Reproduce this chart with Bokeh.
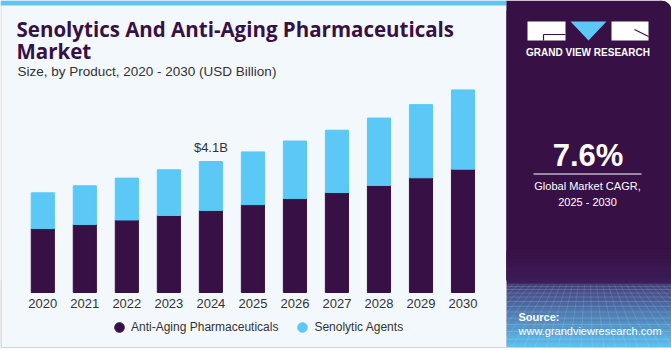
from bokeh.plotting import figure
from bokeh.models import Range1d, Label, Legend, LegendItem, ColumnDataSource
from bokeh.core.properties import value
from bokeh.embed import file_html
from bokeh.resources import INLINE

# ---- data (USD Billion) ----
years = ["2020", "2021", "2022", "2023", "2024", "2025", "2026", "2027", "2028", "2029", "2030"]
year_num = [2020, 2021, 2022, 2023, 2024, 2025, 2026, 2027, 2028, 2029, 2030]
anti_aging = [2.00, 2.13, 2.27, 2.41, 2.57, 2.75, 2.94, 3.13, 3.35, 3.59, 3.86]
senolytic = [1.12, 1.21, 1.31, 1.43, 1.53, 1.65, 1.80, 1.95, 2.11, 2.29, 2.48]
series_names = ["Anti-Aging Pharmaceuticals", "Senolytic Agents"]
highlight_year = 2024
cagr_text = "7.6%"

DARK = "#371046"
LIGHT = "#5bc8f5"
FONT = "Liberation Sans"
TFONT = "Open Sans"

src = ColumnDataSource(dict(year=year_num, label=years, anti=anti_aging, sen=senolytic))

W, H = 671, 350
p = figure(width=W, height=H, x_range=Range1d(0, W), y_range=Range1d(H, 0),
           x_axis_type=None, y_axis_type=None, toolbar_location=None,
           output_backend="svg", min_border=0, outline_line_color=None,
           background_fill_color="white", border_fill_color="white")
p.extra_x_ranges = {"yr": Range1d(2018.993, 2034.962)}
p.extra_y_ranges = {"val": Range1d(-1.8153, 9.139)}

# ---- panels ----
p.quad(left=0.5, right=506, top=0.5, bottom=347, fill_color="#f3f8fc", line_color="#cfd3d6", line_width=1)
p.quad(left=0, right=506, top=0, bottom=5, fill_color="#60c6f1", line_color=None)

# right dark panel with rounded top-right corner
p.quad(left=506, right=661, top=0, bottom=346, fill_color=DARK, line_color=None)
p.quad(left=506, right=671, top=10, bottom=346, fill_color=DARK, line_color=None)
p.ellipse(x=661, y=10, width=20, height=20, fill_color=DARK, line_color=None)

# bottom gradient of the dark panel
def mix(c1, c2, t):
    a = [int(c1[i:i + 2], 16) for i in (1, 3, 5)]
    b = [int(c2[i:i + 2], 16) for i in (1, 3, 5)]
    return "#%02x%02x%02x" % tuple(round(a[k] + (b[k] - a[k]) * t) for k in range(3))

n1 = 8
for i in range(n1):
    y0 = 250 + i * 33 / n1
    p.quad(left=506, right=671, top=y0, bottom=y0 + 33 / n1 + 0.5,
           fill_color=mix(DARK, "#3b1c56", (i + 1) / n1), line_color=None)
n2 = 24
for i in range(n2):
    y0 = 283 + i * 63 / n2
    p.quad(left=506, right=671, top=y0, bottom=y0 + 63 / n2 + 0.5,
           fill_color=mix("#44407c", "#5cc0ee", i / (n2 - 1)), line_color=None)

# faint perspective mesh
hy = [286, 289, 292.5, 296.5, 301, 306, 311.5, 317.5, 324, 331, 338.5]
p.segment(x0=[506] * len(hy), y0=hy, x1=[671] * len(hy), y1=hy,
          line_color="white", line_alpha=0.18, line_width=0.8)
vx_top = [506 + 6 * k for k in range(28)]
vx_bot = [506 + (x - 588) * 1.9 + 82 for x in vx_top]
p.segment(x0=vx_top, y0=[284] * len(vx_top), x1=vx_bot, y1=[346] * len(vx_top),
          line_color="white", line_alpha=0.14, line_width=0.8)
# keep the mesh inside the panel
p.quad(left=496, right=506, top=280, bottom=347, fill_color="#f3f8fc", line_color=None)
p.segment(x0=[0.5], y0=[280], x1=[0.5], y1=[347], line_color="#cfd3d6")
p.quad(left=671, right=1200, top=280, bottom=350, fill_color="white", line_color=None)
p.quad(left=0, right=671, top=346.5, bottom=350, fill_color="white", line_color=None)
p.segment(x0=[0.5], y0=[347], x1=[671], y1=[347], line_color="#cfd3d6")

# ---- logo ----
p.quad(left=527, right=565, top=21, bottom=40, fill_color="white", line_color=None)
p.segment(x0=[543, 543], y0=[34, 34], x1=[565, 543], y1=[34, 40], line_color=DARK, line_width=1.2)
p.patch(x=[570, 606, 588], y=[21, 21, 40], fill_color=LIGHT, line_color=None)
p.quad(left=611, right=648, top=21, bottom=40, fill_color="white", line_color=None)
p.segment(x0=[634], y0=[29], x1=[648], y1=[36], line_color=DARK, line_width=1.2)
p.add_layout(Label(x=587.5, y=52, text="GRAND VIEW RESEARCH", text_align="center",
                   text_baseline="middle", text_color="white", text_font=FONT,
                   text_font_style="bold", text_font_size="10px"))

# ---- bars ----
bars = p.vbar_stack(["anti", "sen"], x="year", width=0.55, color=[DARK, LIGHT],
                    source=src, x_range_name="yr", y_range_name="val")

# year labels
p.text(x="year", y=302.5, text="label", source=src, x_range_name="yr",
       text_align="center", text_baseline="middle", text_color="#333333",
       text_font=value(FONT), text_font_size="13px")

hi = year_num.index(highlight_year)
p.add_layout(Label(x=highlight_year, y=anti_aging[hi] + senolytic[hi],
                   x_range_name="yr", y_range_name="val",
                   text="$%.1fB" % (anti_aging[hi] + senolytic[hi]),
                   text_align="center", text_baseline="bottom", y_offset=7,
                   text_color="#333333", text_font=FONT, text_font_size="13px"))

# ---- legend (marker renderers placed outside the visible area) ----
d1 = p.scatter(x=[-500], y=[-500], marker="circle", size=10, color=DARK)
d2 = p.scatter(x=[-500], y=[-500], marker="circle", size=10, color=LIGHT)
legend = Legend(items=[LegendItem(label=series_names[0], renderers=[d1]),
                       LegendItem(label=series_names[1], renderers=[d2])],
                orientation="horizontal", location=(107, 11),
                glyph_width=24, glyph_height=24, label_standoff=-1, spacing=12,
                padding=0, margin=0, background_fill_alpha=0, border_line_alpha=0,
                label_text_font=FONT, label_text_font_size="12px",
                label_text_color="#333333")
p.add_layout(legend, "center")

# ---- titles ----
p.add_layout(Label(x=16, y=28, text="Senolytics And Anti-Aging Pharmaceuticals",
                   text_baseline="middle", text_color=DARK, text_font=TFONT,
                   text_font_style="bold", text_font_size="20.5px"))
p.add_layout(Label(x=16, y=50.5, text="Market", text_baseline="middle",
                   text_color=DARK, text_font=TFONT, text_font_style="bold",
                   text_font_size="20.5px"))
p.add_layout(Label(x=17, y=70.5, text="Size, by Product, 2020 - 2030 (USD Billion)",
                   text_baseline="middle", text_color="#333333", text_font=FONT,
                   text_font_size="13.5px"))

# ---- right panel texts ----
p.add_layout(Label(x=587.5, y=155, text=cagr_text, text_align="center",
                   text_baseline="middle", text_color="white", text_font=FONT,
                   text_font_style="bold", text_font_size="31px"))
p.segment(x0=[533], y0=[173.5], x1=[641], y1=[173.5], line_color="white", line_width=1)
p.add_layout(Label(x=587, y=185.5, text="Global Market CAGR,", text_align="center",
                   text_baseline="middle", text_color="white", text_font=FONT,
                   text_font_size="11px"))
p.add_layout(Label(x=587, y=201.5, text="2025 - 2030", text_align="center",
                   text_baseline="middle", text_color="white", text_font=FONT,
                   text_font_size="11px"))
p.add_layout(Label(x=518, y=316, text="Source:", text_baseline="middle",
                   text_color="white", text_font=FONT, text_font_style="bold",
                   text_font_size="11px"))
p.add_layout(Label(x=518, y=330, text="www.grandviewresearch.com", text_baseline="middle",
                   text_color="white", text_font=FONT, text_font_size="11px"))

open("out.html", "w").write(file_html(p, INLINE))
